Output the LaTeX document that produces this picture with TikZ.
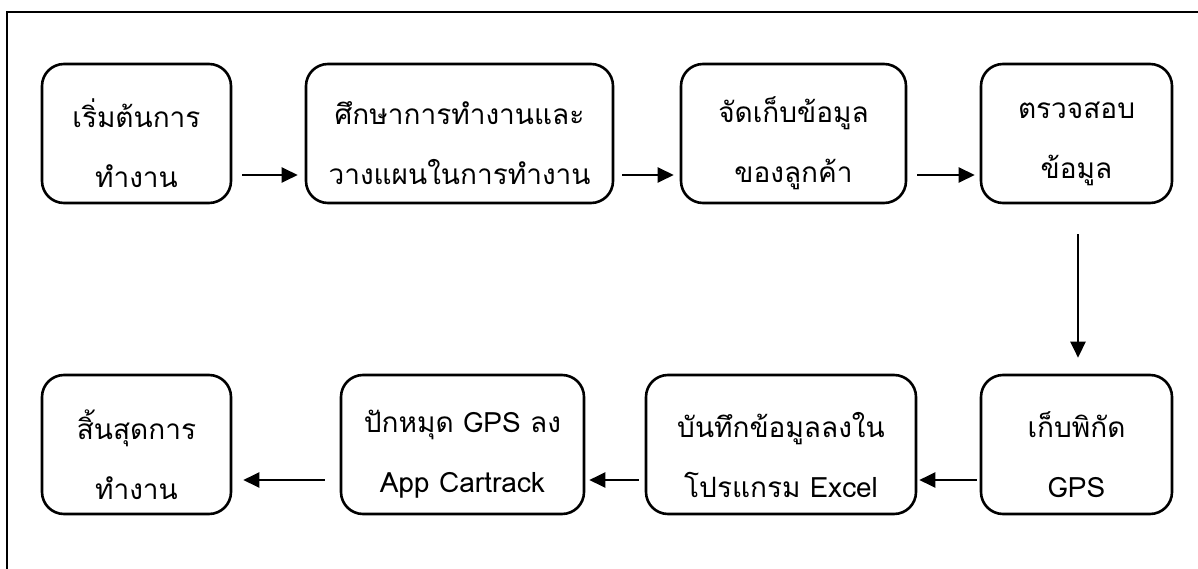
\documentclass[tikz,border=0pt]{standalone}
\usepackage{fontspec}
\newfontfamily\thaifont[Script=Thai]{Loma}
\usetikzlibrary{arrows.meta}
\tikzset{
  box/.style={draw, line width=2.6pt, rounded corners=22pt, minimum height=139pt, inner sep=0pt},
  lbl/.style={align=center, font=\thaifont\fontsize{28}{60}\selectfont},
  arr/.style={line width=2.4pt, -{Triangle[length=16pt,width=15pt]}}
}
\begin{document}
\begin{tikzpicture}[x=1pt,y=-1pt]
\useasboundingbox (0,0) rectangle (1198,569);
\coordinate (fa) at (7,569);
\coordinate (fb) at (7,12);
\coordinate (fc) at (1198,12);
\draw[line width=2pt] (fa) -- (fb) -- (fc);
% row 1
\node[box, minimum width=189pt] (b1) at (136.5,133.5) {};
\node[box, minimum width=307pt] (b2) at (459.5,133.5) {};
\node[box, minimum width=225pt] (b3) at (793.5,133.5) {};
\node[box, minimum width=191pt] (b4) at (1076.5,133.5) {};
% row 2
\node[box, minimum width=191pt] (b5) at (1076.5,444.5) {};
\node[box, minimum width=270pt] (b6) at (781,444.5) {};
\node[box, minimum width=243pt] (b7) at (462.5,444.5) {};
\node[box, minimum width=189pt] (b8) at (136.5,444.5) {};
% labels
\node[lbl] (t1) at ([yshift=-10pt]b1.center) {เริ่มต้นการ\\ทำงาน};
\node[lbl] (t2) at ([yshift=-10pt]b2.center) {ศึกษาการทำงานและ\\วางแผนในการทำงาน};
\node[lbl] (t3) at ([yshift=-10pt]b3.center) {จัดเก็บข้อมูล\\ของลูกค้า};
\node[lbl] (t4) at ([yshift=-10pt]b4.center) {ตรวจสอบ\\ข้อมูล};
\node[lbl] (t5) at ([yshift=-10pt]b5.center) {เก็บพิกัด\\GPS};
\node[lbl] (t6) at ([yshift=-10pt]b6.center) {บันทึกข้อมูลลงใน\\โปรแกรม Excel};
\node[lbl] (t7) at ([yshift=-10pt]b7.center) {ปักหมุด GPS ลง\\App Cartrack};
\node[lbl] (t8) at ([yshift=-10pt]b8.center) {สิ้นสุดการ\\ทำงาน};
% arrows
\draw[arr] ([xshift=10pt,yshift=-41.5pt]b1.east) -- ([xshift=-7pt,yshift=-41.5pt]b2.west);
\draw[arr] ([xshift=8pt,yshift=-41.5pt]b2.east) -- ([xshift=-6pt,yshift=-41.5pt]b3.west);
\draw[arr] ([xshift=10pt,yshift=-41.5pt]b3.east) -- ([xshift=-5pt,yshift=-41.5pt]b4.west);
\draw[arr] ([yshift=-30pt,xshift=1.5pt]b4.south) -- ([yshift=16pt,xshift=1.5pt]b5.north);
\draw[arr] ([xshift=-3pt,yshift=-35.5pt]b5.west) -- ([xshift=2pt,yshift=-35.5pt]b6.east);
\draw[arr] ([xshift=-6pt,yshift=-35.5pt]b6.west) -- ([xshift=4pt,yshift=-35.5pt]b7.east);
\draw[arr] ([xshift=-15pt,yshift=-35.5pt]b7.west) -- ([xshift=11pt,yshift=-35.5pt]b8.east);
\end{tikzpicture}
\end{document}
